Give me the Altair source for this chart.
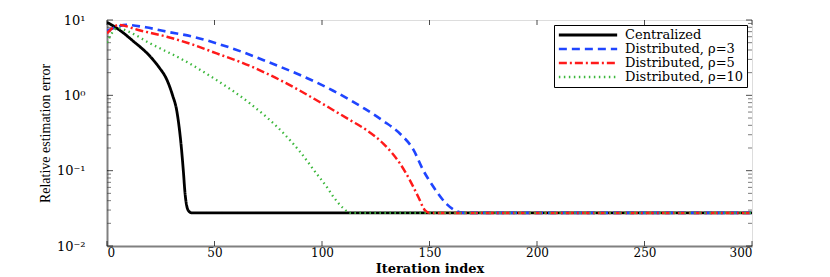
import altair as alt
import pandas as pd

series_names = ["Centralized", "Distributed, ρ=3", "Distributed, ρ=5", "Distributed, ρ=10"]

cent_x = [0, 6, 12, 20, 24, 27.8, 30.5, 32.4, 33.7, 34.7, 35.5, 36.3, 37.8, 39.4, 300]
cent_y = [9.3, 7.3, 5.3, 3.3, 2.4, 1.62, 1.0, 0.635, 0.35, 0.187, 0.1, 0.05, 0.0297, 0.0275, 0.0275]

d3_x = [0, 4, 9, 18, 27.8, 40, 51, 63, 74.3, 89.8, 97.5, 105, 113, 120, 128.5, 136.3, 142.5, 147.1, 151.8, 158, 162.6, 166, 300]
d3_y = [7.2, 8.0, 8.6, 8.0, 7.0, 6.0, 4.9, 3.76, 2.82, 1.86, 1.48, 1.16, 0.87, 0.66, 0.457, 0.309, 0.19, 0.101, 0.061, 0.036, 0.029, 0.0275, 0.0275]

d5_x = [0, 3, 5.3, 15, 27.8, 40, 51, 63, 74.3, 89.8, 97.5, 105.3, 113, 120.8, 128.5, 136.3, 140.9, 144.8, 147.9, 150, 300]
d5_y = [6.65, 8.0, 8.6, 7.3, 6.0, 4.7, 3.6, 2.7, 1.95, 1.15, 0.86, 0.635, 0.47, 0.344, 0.229, 0.124, 0.0745, 0.0447, 0.0297, 0.0275, 0.0275]

d10_x = [0, 2, 5, 10, 20, 35.5, 51, 66.5, 82, 89.8, 97.5, 102.2, 105.3, 110, 113, 300]
d10_y = [5.0, 6.5, 7.8, 7.0, 4.9, 2.94, 1.59, 0.78, 0.316, 0.178, 0.091, 0.061, 0.045, 0.0316, 0.0275, 0.0275]

x_ticks = [0, 50, 100, 150, 200, 250, 300]
y_major = [0.01, 0.1, 1, 10]
y_minor = [m * 10 ** e for e in (-2, -1, 0) for m in range(2, 10)]

colors = ["#000000", "#1f45ff", "#ff1a1a", "#3cb83c"]
dashes = [[1, 0], [8, 5], [8, 3, 2, 3], [1.5, 3.5]]
widths = [2.8, 2.3, 2.3, 1.8]

rows = []
for name, xs, ys in zip(series_names, [cent_x, d3_x, d5_x, d10_x], [cent_y, d3_y, d5_y, d10_y]):
    for i, (a, b) in enumerate(zip(xs, ys)):
        rows.append({"series": name, "x": a, "y": b, "order": i})
df = pd.DataFrame(rows)

W, H = 645, 226
SERIF = "DejaVu Serif"

xscale = alt.Scale(domain=[0, 300], nice=False, zero=False)
yscale = alt.Scale(type="log", domain=[0.01, 10], nice=False)

lines = alt.Chart(df).mark_line(interpolate="monotone", clip=True).encode(
    x=alt.X("x:Q", scale=xscale, axis=alt.Axis(
        values=x_ticks, ticks=False, grid=False, title="Iteration index",
        labelFont=SERIF, labelFontSize=12, labelColor="black", labelPadding=1,
        titleFont=SERIF, titleFontSize=13, titleFontWeight="bold", titleColor="black",
        titleY=26, titleBaseline="alphabetic",
        domainColor="#808080", domainWidth=2)),
    y=alt.Y("y:Q", scale=yscale, axis=alt.Axis(
        values=y_major, ticks=False, grid=False, title="Relative estimation error",
        labelExpr="datum.value >= 10 ? '10¹' : datum.value >= 1 ? '10⁰' : datum.value >= 0.1 ? '10⁻¹' : '10⁻²'",
        labelFont=SERIF, labelFontSize=13, labelColor="black", labelPadding=22,
        titleFont="Liberation Serif", titleFontSize=14, titleFontWeight="normal", titleColor="black",
        titleX=-55, titleY=H / 2,
        domainColor="#808080", domainWidth=2)),
    color=alt.Color("series:N", scale=alt.Scale(domain=series_names, range=colors),
                    legend=alt.Legend(title=None, orient="top-right", offset=5,
                                      fillColor="white", strokeColor="black", padding=3,
                                      symbolType="stroke", symbolSize=3400, symbolStrokeWidth=2,
                                      clipHeight=14,
                                      labelFont=SERIF, labelFontSize=13, labelColor="black",
                                      rowPadding=0, labelOffset=6)),
    strokeDash=alt.StrokeDash("series:N", scale=alt.Scale(domain=series_names, range=dashes)),
    strokeWidth=alt.StrokeWidth("series:N", scale=alt.Scale(domain=series_names, range=widths), legend=None),
    order="order:Q",
    detail="series:N",
)

xt = pd.DataFrame({"x": x_ticks})
ymaj = pd.DataFrame({"y": y_major})
ymin = pd.DataFrame({"y": y_minor})

xt_bottom = alt.Chart(xt).mark_tick(color="black", size=5, thickness=1, yOffset=-2.5).encode(
    x=alt.X("x:Q", scale=xscale), y=alt.value(H))
xt_top = alt.Chart(xt).mark_tick(color="black", size=5, thickness=1, yOffset=2.5).encode(
    x=alt.X("x:Q", scale=xscale), y=alt.value(0))
ymaj_l = alt.Chart(ymaj).mark_tick(color="black", size=6, thickness=1, xOffset=3).encode(
    y=alt.Y("y:Q", scale=yscale), x=alt.value(0))
ymaj_r = alt.Chart(ymaj).mark_tick(color="black", size=6, thickness=1, xOffset=-3).encode(
    y=alt.Y("y:Q", scale=yscale), x=alt.value(W))
ymin_l = alt.Chart(ymin).mark_tick(color="#444444", size=4, thickness=1, xOffset=2).encode(
    y=alt.Y("y:Q", scale=yscale), x=alt.value(0))
ymin_r = alt.Chart(ymin).mark_tick(color="#444444", size=4, thickness=1, xOffset=-2).encode(
    y=alt.Y("y:Q", scale=yscale), x=alt.value(W))

chart = alt.layer(xt_bottom, xt_top, ymaj_l, ymaj_r, ymin_l, ymin_r, lines).properties(
    width=W, height=H,
    autosize=alt.AutoSizeParams(type="none"),
    padding={"left": 99, "top": 12, "right": 40, "bottom": 30},
).configure_view(stroke="black", strokeWidth=1).configure(background="white")

chart.save("out.html", embed_options={"renderer": "svg", "actions": False})
